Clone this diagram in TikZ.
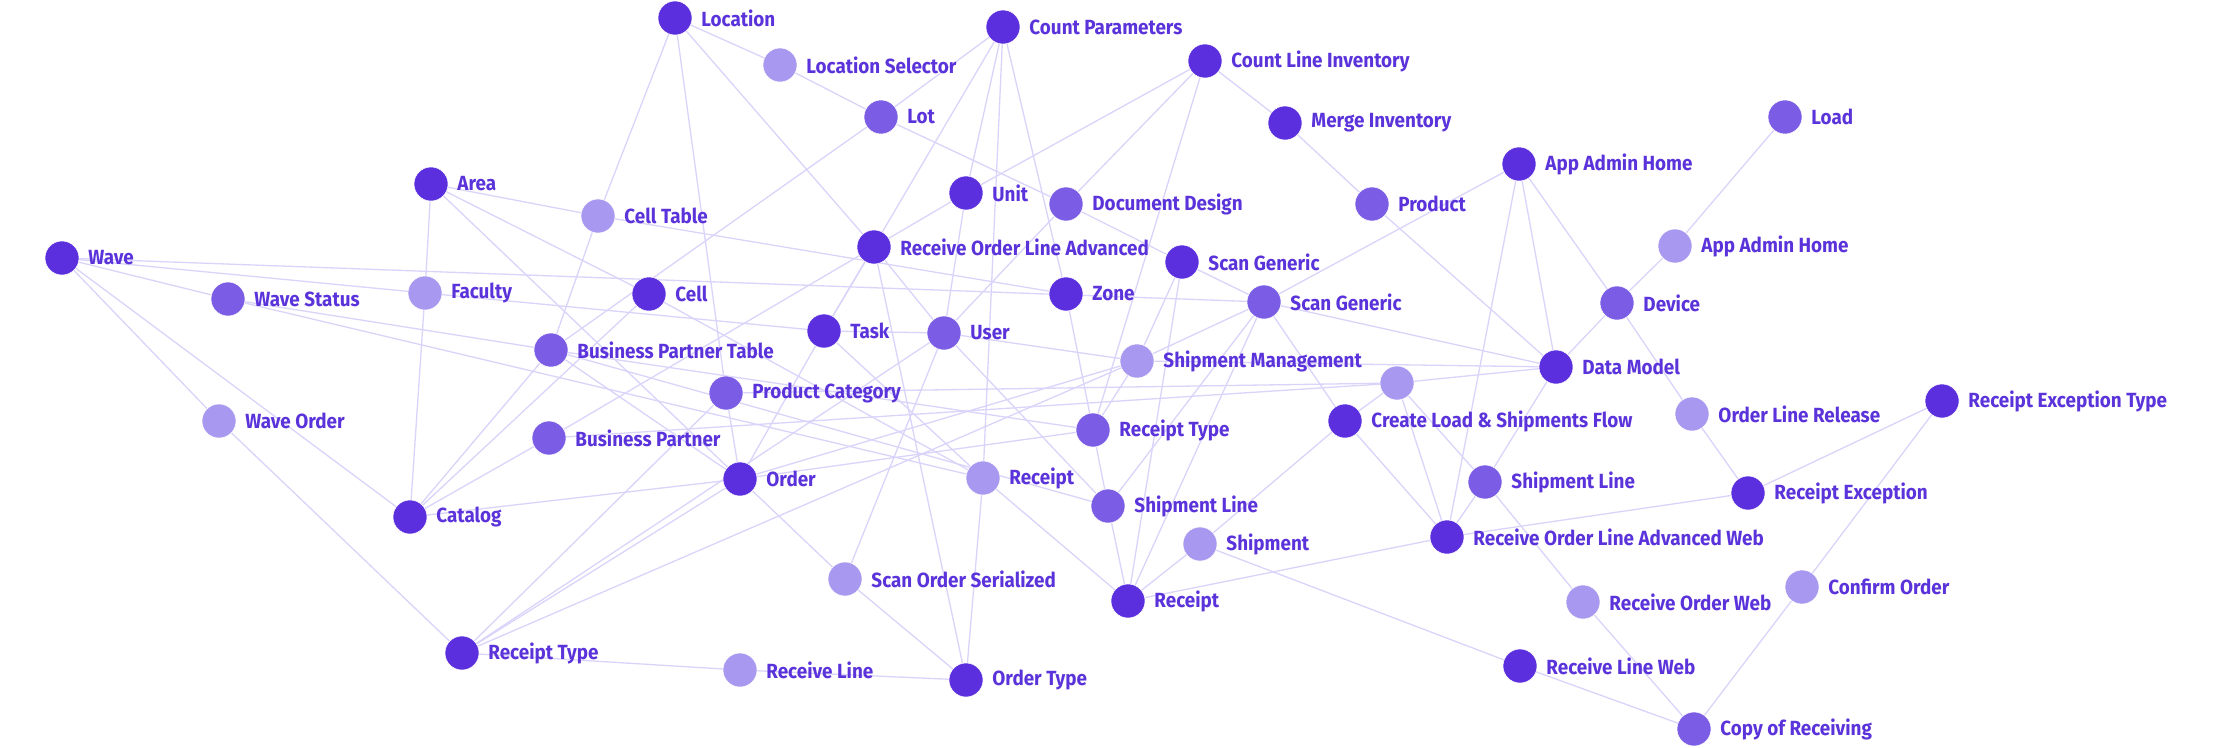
\documentclass[tikz,border=0pt]{standalone}
\usepackage{fontspec}
\setmainfont{Fira Sans}[FakeStretch=0.92]
\usetikzlibrary{backgrounds}
\definecolor{dkc}{HTML}{5B2FDE}
\definecolor{mdc}{HTML}{7B5CE5}
\definecolor{ltc}{HTML}{A898EF}
\definecolor{edc}{HTML}{DAD4FA}
\definecolor{txc}{HTML}{5B33DA}

\begin{document}
\begin{tikzpicture}[x=1pt,y=-1pt,label distance=9pt,
  nd/.style={circle,minimum size=34pt,inner sep=0pt,draw=white,line width=0.5pt},
  dk/.style={nd,fill=dkc},
  md/.style={nd,fill=mdc},
  lt/.style={nd,fill=ltc},
  lb/.style={text=txc,font=\fontsize{20.5}{22}\selectfont\bfseries,inner sep=0pt},
  ed/.style={draw=edc,line width=1.3pt}]
\useasboundingbox (0,0) rectangle (2223,747);

\node[dk,label={[lb]0:Location}] (location) at (675,18) {};
\node[lt,label={[lb]0:Location Selector}] (locsel) at (780,65) {};
\node[md,label={[lb]0:Lot}] (lot) at (881,117) {};
\node[dk,label={[lb]0:Count Parameters}] (cntpar) at (1003,27) {};
\node[dk,label={[lb]0:Count Line Inventory}] (cntline) at (1205,61) {};
\node[dk,label={[lb]0:Merge Inventory}] (merge) at (1285,123) {};
\node[dk,label={[lb]0:Unit}] (unit) at (966,193) {};
\node[md,label={[lb]0:Document Design}] (docdes) at (1066,204) {};
\node[md,label={[lb]0:Product}] (product) at (1372,204) {};
\node[dk,label={[lb]0:App Admin Home}] (aah1) at (1519,164) {};
\node[md,label={[lb]0:Load}] (load) at (1785,117) {};
\node[lt,label={[lb]0:App Admin Home}] (aah2) at (1675,246) {};
\node[dk,label={[lb]0:Area}] (area) at (431,184) {};
\node[lt,label={[lb]0:Cell Table}] (celltbl) at (598,216) {};
\node[dk,label={[lb]0:Wave}] (wave) at (62,258) {};
\node[md,label={[lb]0:Wave Status}] (wavests) at (228,299) {};
\node[lt,label={[lb]0:Faculty}] (faculty) at (425,293) {};
\node[dk,label={[lb]0:Cell}] (cell) at (649,294) {};
\node[dk,label={[lb]0:Receive Order Line Advanced}] (rola) at (874,247) {};
\node[dk,label={[lb]0:Scan Generic}] (scang1) at (1182,262) {};
\node[dk,label={[lb]0:Zone}] (zone) at (1066,294) {};
\node[md,label={[lb]0:Scan Generic}] (scang2) at (1264,302) {};
\node[md,label={[lb]0:Device}] (device) at (1617,303) {};
\node[dk,label={[lb]0:Task}] (task) at (824,331) {};
\node[md,label={[lb]0:User}] (user) at (944,333) {};
\node[md,label={[lb]0:Business Partner Table}] (bpt) at (551,350) {};
\node[lt,label={[lb]0:Shipment Management}] (shipmgt) at (1137,361) {};
\node[dk,label={[lb]0:Data Model}] (datamdl) at (1556,367) {};
\node[lt] (xnode) at (1397,383) {};
\node[md,label={[lb]0:Product Category}] (prodcat) at (726,393) {};
\node[lt,label={[lb]0:Wave Order}] (waveord) at (219,421) {};
\node[dk,label={[lb]0:Create Load \& Shipments Flow}] (crload) at (1345,421) {};
\node[lt,label={[lb]0:Order Line Release}] (olrel) at (1692,414) {};
\node[dk,label={[lb]0:Receipt Exception Type}] (rexctype) at (1942,401) {};
\node[md,label={[lb]0:Receipt Type}] (rctype2) at (1093,430) {};
\node[md,label={[lb]0:Business Partner}] (bp) at (549,438) {};
\node[dk,label={[lb]0:Order}] (order) at (740,479) {};
\node[lt,label={[lb]0:Receipt}] (rcpt1) at (983,478) {};
\node[md,label={[lb]0:Shipment Line}] (shipln1) at (1108,506) {};
\node[md,label={[lb]0:Shipment Line}] (shipln2) at (1485,482) {};
\node[dk,label={[lb]0:Receipt Exception}] (rexc) at (1748,493) {};
\node[dk,label={[lb]0:Catalog}] (catalog) at (410,517) {};
\node[lt,label={[lb]0:Shipment}] (shipment) at (1200,544) {};
\node[dk,label={[lb]0:Receive Order Line Advanced Web}] (rolaw) at (1447,537) {};
\node[lt,label={[lb]0:Scan Order Serialized}] (sos) at (845,579) {};
\node[dk,label={[lb]0:Receipt}] (rcpt2) at (1128,601) {};
\node[lt,label={[lb]0:Receive Order Web}] (rcvordweb) at (1583,602) {};
\node[lt,label={[lb]0:Confirm Order}] (confirm) at (1802,587) {};
\node[dk,label={[lb]0:Receipt Type}] (rctype1) at (462,653) {};
\node[lt,label={[lb]0:Receive Line}] (rcvline) at (740,670) {};
\node[dk,label={[lb]0:Order Type}] (ordtype) at (966,680) {};
\node[dk,label={[lb]0:Receive Line Web}] (rcvlnweb) at (1520,666) {};
\node[md,label={[lb]0:Copy of Receiving}] (copyrcv) at (1694,729) {};

\begin{scope}[on background layer]
\fill[white] (0,0) rectangle (2223,747);
\foreach \a/\b in {location/locsel,locsel/lot,location/celltbl,celltbl/bpt,location/prodcat,location/rola,
  lot/cntpar,lot/bpt,lot/docdes,docdes/scang1,scang1/scang2,
  cntpar/unit,cntpar/task,cntpar/zone,cntpar/rcpt1,
  cntline/merge,cntline/unit,unit/rola,cntline/docdes,cntline/rctype2,
  merge/product,product/datamdl,aah1/scang2,aah1/device,aah1/datamdl,aah1/rolaw,
  load/aah2,aah2/device,device/datamdl,device/olrel,olrel/rexc,rexc/rexctype,rexc/rolaw,
  rexctype/confirm,confirm/copyrcv,rcvordweb/copyrcv,rcvlnweb/copyrcv,shipln2/rcvordweb,
  shipment/rcvlnweb,shipln2/datamdl,shipln2/rolaw,
  xnode/crload,xnode/datamdl,xnode/rolaw,xnode/shipln2,crload/rolaw,crload/shipment,
  shipment/rcpt2,scang2/crload,scang2/datamdl,shipmgt/datamdl,rolaw/rcpt2,prodcat/xnode,bp/xnode,
  area/faculty,area/celltbl,area/cell,area/order,celltbl/zone,
  wave/scang2,wave/faculty,faculty/task,wave/wavests,wave/waveord,wave/catalog,wavests/bpt,wavests/rcpt1,
  faculty/catalog,catalog/bpt,catalog/cell,catalog/bp,catalog/order,
  bpt/order,bpt/rctype2,bpt/shipln1,bp/rola,
  task/rola,task/rcpt1,task/order,task/user,
  user/rola,user/unit,user/docdes,user/shipln1,user/shipmgt,user/sos,
  shipmgt/scang1,shipmgt/scang2,shipmgt/rctype2,shipmgt/rctype1,
  scang1/rcpt2,scang2/rcpt2,scang2/shipln1,
  zone/rctype2,rctype2/shipln1,shipln1/rcpt2,order/rctype2,
  rcpt1/ordtype,rcpt1/rcpt2,rola/ordtype,order/sos,sos/ordtype,rcvline/ordtype,
  rctype1/rcvline,waveord/rctype1,
  rctype1/prodcat,rctype1/order,rctype1/user,
  cell/rcpt1,order/shipmgt,prodcat/order}
  \draw[ed] (\a) -- (\b);
\end{scope}
\end{tikzpicture}
\end{document}
